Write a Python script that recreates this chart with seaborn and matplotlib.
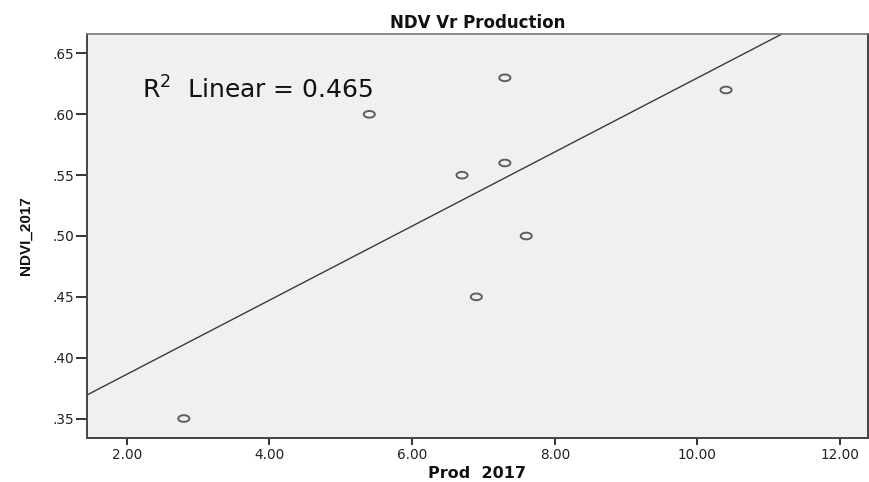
import numpy as np
import pandas as pd
import seaborn as sns
import matplotlib
matplotlib.use("Agg")
import matplotlib.pyplot as plt
from matplotlib.path import Path
from matplotlib.ticker import FixedLocator, FuncFormatter

# Data
prod_2017 = [2.8, 5.4, 6.7, 6.9, 7.3, 7.3, 7.6, 10.4]
ndvi_2017 = [0.35, 0.60, 0.55, 0.45, 0.63, 0.56, 0.50, 0.62]
x_ticks = [2, 4, 6, 8, 10, 12]
y_ticks = [0.35, 0.40, 0.45, 0.50, 0.55, 0.60, 0.65]
title = "NDV Vr Production"
x_label = "Prod  2017"
y_label = "NDVI_2017"
r2_label = "R$^2$  Linear = 0.465"

df = pd.DataFrame({"Prod": prod_2017, "NDVI": ndvi_2017})

sns.set_style("white")
plt.rcParams['font.family'] = ['DejaVu Sans']
plt.rcParams['mathtext.fontset'] = 'dejavusans'

fig = plt.figure(figsize=(8.69, 4.82), dpi=100)
ax = fig.add_axes([87/869, 1-438/482, (868-87)/869, (438-34)/482])
ax.set_facecolor("#F0F0F0")
ax.set_xlim(1.443, 12.39)
ax.set_ylim(0.334, 0.666)

theta = np.linspace(0, 2*np.pi, 40)
ellipse = Path(np.column_stack([np.cos(theta), 0.6*np.sin(theta)]), closed=True)

sns.regplot(data=df, x="Prod", y="NDVI", ax=ax, ci=None, truncate=False,
            marker=ellipse,
            scatter_kws=dict(s=64, facecolors="none", edgecolors="#3a3a3a", linewidths=1.4),
            line_kws=dict(color="#3a3a3a", lw=1.0))
ax.set_xlim(1.443, 12.39)
ax.set_ylim(0.334, 0.666)

ax.xaxis.set_major_locator(FixedLocator(x_ticks))
ax.yaxis.set_major_locator(FixedLocator(y_ticks))
ax.xaxis.set_major_formatter(FuncFormatter(lambda v, p: f"{v:.2f}"))
ax.yaxis.set_major_formatter(FuncFormatter(lambda v, p: f"{v:.2f}"[1:]))
ax.tick_params(axis="both", which="major", bottom=True, left=True, width=1.4,
               color="#333333", labelsize=9.8, labelcolor="#222222", direction="out")
ax.tick_params(axis="x", length=5, pad=2)
ax.tick_params(axis="y", length=8, pad=1)

for side, sp in ax.spines.items():
    sp.set_color("#444444")
    sp.set_linewidth(1.4)
ax.spines["top"].set_color("#777777")
ax.spines["top"].set_linewidth(1.2)

ax.set_xlabel(x_label, fontsize=11.5, fontweight="bold", labelpad=3, color="#111111")
ax.set_ylabel(y_label, family=['Liberation Sans', 'DejaVu Sans'], fontsize=11,
              fontweight="bold", labelpad=14, color="#111111")
ax.set_title(title, fontsize=12, fontweight="bold", pad=4, color="#111111")

ax.text(0.07, 0.862, r2_label, transform=ax.transAxes, fontsize=18,
        ha="left", va="center", color="#111111")

fig.savefig("out.png", dpi=100)
